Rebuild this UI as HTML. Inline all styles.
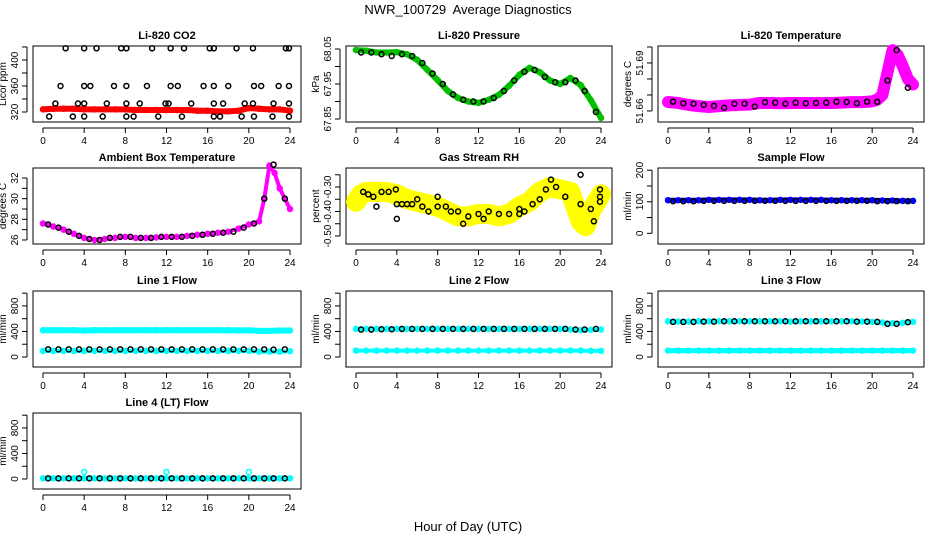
<!DOCTYPE html>
<html><head><meta charset="utf-8">
<style>
body{margin:0;background:#fff;}
svg{display:block;font-family:"Liberation Sans",sans-serif;}
text{white-space:pre;}
</style></head>
<body>
<svg id="chart" width="936" height="540" viewBox="0 0 936 540" xmlns="http://www.w3.org/2000/svg">
<text x="468" y="14" text-anchor="middle" font-size="13">NWR_100729  Average Diagnostics</text>
<text x="468" y="531" text-anchor="middle" font-size="13">Hour of Day (UTC)</text>
</svg>
<script>
// ---- data ----
const H25 = [0,1,2,3,4,5,6,7,8,9,10,11,12,13,14,15,16,17,18,19,20,21,22,23,24];
const HB = [0.5,1.5,2.5,3.5,4.5,5.5,6.5,7.5,8.5,9.5,10.5,11.5,12.5,13.5,14.5,15.5,16.5,17.5,18.5,19.5,20.5,21.5,22.4,23.5];
const xTicks = [0,4,8,12,16,20,24];

const co2Red = [324,325,325,325,324,324,324,324,324,323,323,323,323,323,323,322,322,321,321,322,326,325,324,324,322];
const co2BlackT = [2.2,4,5.2,7.6,8.1,10.6,12.4,13.7,16.2,16.6,18.8,20.4,23.6,23.9, 1.7,4,4.6,6.9,8.1,10.1,12.4,13.1,15.6,16.6,18,20.5,21.2,22.9,23.9, 1.2,3.4,4,6.2,8.1,9.4,11.9,12.2,14.4,16.6,17.5,19.6,20.4,22.4,23.9, 0.6,2.9,4,5.8,8.1,8.8,11.2,13.5,16.6,17.2,19.3,20.5,22.3,23.9];
const co2BlackV = [418,418,418,418,418,418,418,418,418,418,418,418,418,418, 360,360,360,360,360,360,360,360,360,360,360,360,360,360,360, 333,333,333,333,333,333,333,333,333,333,333,333,333,333,333, 313,313,313,313,313,313,313,313,313,313,313,313,313,313];

const presGreen = [68.047,68.045,68.04,68.04,68.041,68.035,68.019,67.99,67.961,67.93,67.91,67.9,67.896,67.905,67.919,67.945,67.976,67.996,67.984,67.96,67.95,67.967,67.947,67.904,67.853];
const presBlack = [68.04,68.04,68.035,68.03,68.035,68.03,68.01,67.98,67.95,67.92,67.905,67.9,67.9,67.91,67.93,67.96,67.985,67.99,67.97,67.955,67.955,67.96,67.93,67.87];

const tempT = [0,1,2,3,4,5,6,7,8,9,10,11,12,13,14,15,16,17,18,19,20,20.5,21,21.5,22,22.5,23,23.5,24];
const tempMag = [51.6656,51.665,51.6638,51.663,51.6625,51.663,51.6635,51.6638,51.664,51.665,51.665,51.6648,51.665,51.665,51.665,51.665,51.665,51.6652,51.6655,51.6655,51.666,51.667,51.670,51.684,51.698,51.695,51.688,51.680,51.6765];
const tempBlack = [51.6658,51.6648,51.6645,51.6638,51.6632,51.662,51.6645,51.6646,51.6628,51.6655,51.6652,51.6645,51.6652,51.6648,51.665,51.6652,51.6658,51.6656,51.6648,51.6658,51.6657,51.679,51.698,51.6745];

const ambT = [0,1,2,3,4,5,6,7,8,9,10,11,12,13,14,15,16,17,18,19,20,21,21.5,22,22.5,23,24];
const ambMag = [27.6,27.3,27,26.6,26.2,26,26.1,26.2,26.3,26.2,26.2,26.25,26.3,26.3,26.4,26.5,26.6,26.7,26.8,27.1,27.5,27.8,30,33.2,32.5,31,29];
const ambBlack = [27.5,27.2,26.8,26.4,26.1,26.0,26.2,26.3,26.3,26.2,26.2,26.3,26.3,26.3,26.4,26.5,26.6,26.7,26.8,27.2,27.6,30,33.3,30];

const rhT = [0,0.5,1,2,3,4,5,6,7,8,9,10,11,12,13,14,15,16,17,18,19,20,21,22,22.5,23,24];
const rhYel = [-0.36,-0.33,-0.32,-0.32,-0.32,-0.33,-0.35,-0.36,-0.37,-0.38,-0.40,-0.42,-0.42,-0.41,-0.41,-0.42,-0.41,-0.38,-0.36,-0.32,-0.30,-0.31,-0.32,-0.44,-0.46,-0.40,-0.33];
const rhBlackT = [0.7,1.2,1.7,2,2.5,3.2,3.9,4,4,4.5,5,5.5,6,6.5,7.1,8,8,8.8,9.3,10,10.5,11,12,12.5,13,14,15,16,16,16.5,17.3,18,18.6,19.1,19.6,20.5,22,22,23,23.3,23.9,23.9,23.9];
const rhBlackV = [-0.32,-0.33,-0.34,-0.38,-0.32,-0.32,-0.31,-0.43,-0.37,-0.37,-0.37,-0.37,-0.35,-0.38,-0.40,-0.34,-0.38,-0.38,-0.40,-0.40,-0.45,-0.42,-0.41,-0.43,-0.40,-0.41,-0.41,-0.41,-0.39,-0.40,-0.37,-0.35,-0.31,-0.27,-0.30,-0.34,-0.25,-0.37,-0.39,-0.44,-0.31,-0.34,-0.36];

const sampBlue = [105,105,105,105,106,106,106,106,106,105,105,106,106,106,106,106,105,105,105,105,105,104,104,103,103];
const sampBlack = [102,102,102,103,103,103,103,103,103,103,103,103,103,103,103,103,103,103,103,103,102,102,102,102];

const l1Top = [420,420,420,420,415,420,420,420,420,420,420,420,420,420,420,420,420,420,420,418,418,410,410,415,415];
const l1Low = [95,95,95,95,95,95,95,95,95,95,95,95,95,95,95,95,95,95,95,95,95,85,85,85,90];
const l1Black = [120,120,120,120,120,120,120,120,120,120,120,120,120,120,120,120,120,120,120,120,120,120,115,120];

const l2Top = [440,440,440,440,440,440,440,440,440,440,440,440,440,440,440,440,440,440,440,440,440,430,420,425,430];
const l2Low = [100,100,100,100,100,100,100,100,100,100,100,100,100,100,100,100,100,100,100,100,100,100,100,95,95];
const l2Black = [430,430,435,435,440,440,440,440,440,440,440,440,440,440,440,440,440,440,440,440,440,430,430,440];

const l3Top = [560,555,555,560,560,560,560,560,560,560,560,560,555,560,560,560,560,560,560,555,550,540,530,535,550];
const l3Low = [100,100,100,100,100,100,100,100,100,100,100,100,100,100,100,100,100,100,100,100,100,100,100,100,100];
const l3Black = [550,550,550,555,555,560,560,560,560,560,560,560,560,560,560,560,560,560,555,555,550,520,520,545];

const l4Cyan = [10,10,10,10,10,10,10,10,10,10,10,10,10,10,10,10,10,10,10,10,10,10,10,10,10];
const l4SpikeT = [4,12,20];
const l4SpikeV = [110,110,110];
const l4Black = [10,10,10,10,10,10,10,10,10,10,10,10,10,10,10,10,10,10,10,10,10,10,10,10];

// ---- drawing ----
const svg = document.getElementById('chart');
const NS = 'http://www.w3.org/2000/svg';
function mk(tag, attrs, parent){const e=document.createElementNS(NS,tag);for(const k in attrs)e.setAttribute(k,attrs[k]);(parent||svg).appendChild(e);return e;}

function panel(o){
  const g = mk('g',{});
  
  
  const xs = h => o.x0 + 10 + h*(o.x1-o.x0-21)/24;
  const ys = v => o.y1 - (v-o.ymin)/(o.ymax-o.ymin)*(o.y1-o.y0);
  const box = mk('rect',{x:o.x0,y:o.y0,width:o.x1-o.x0,height:o.y1-o.y0,fill:'none',stroke:'#000','stroke-width':1},g);
  
  
  const t = mk('text',{x:(o.x0+o.x1)/2,y:o.y0-7,'text-anchor':'middle','font-size':11,'font-weight':'bold'},g);
  t.textContent = o.title;
  
  
  const xa = mk('g',{},g);
  
  
  const by = o.y1+6;
  mk('line',{x1:xs(0),x2:xs(24),y1:by,y2:by,stroke:'#000'},xa);
  xTicks.forEach(v=>{
    mk('line',{x1:xs(v),x2:xs(v),y1:by,y2:by+5,stroke:'#000'},xa);
    const l = mk('text',{x:xs(v),y:by+16,'text-anchor':'middle','font-size':10},xa);
    l.textContent = v;
  });
  const ya = mk('g',{},g);
  
  
  const ax = o.x0-6;
  mk('line',{x1:ax,x2:ax,y1:ys(o.yt[0]),y2:ys(o.yt[o.yt.length-1]),stroke:'#000'},ya);
  o.yt.forEach(v=>{
    mk('line',{x1:ax,x2:ax-5,y1:ys(v),y2:ys(v),stroke:'#000'},ya);
  });
  o.yl.forEach((v,i)=>{
    const lx = ax-9, ly = ys(v);
    const l = mk('text',{x:lx,y:ly,'text-anchor':'middle','font-size':10,transform:`rotate(-90 ${lx} ${ly})`},ya);
    l.textContent = o.ylt[i];
  });
  const yt = mk('text',{x:o.x0-27,y:(o.y0+o.y1)/2,'text-anchor':'middle','font-size':10,transform:`rotate(-90 ${o.x0-27} ${(o.y0+o.y1)/2})`},g);
  yt.textContent = o.ylab;
  
  
  o.series.forEach(s=>{
    const sg = mk('g',{},g);
    
    
    if(s.band){
      const pts = s.t.map((h,i)=>xs(h)+','+ys(s.v[i])).join(' ');
      mk('polyline',{points:pts,fill:'none',stroke:s.color,'stroke-width':s.band,'stroke-linejoin':'round','stroke-linecap':'round'},sg);
    }
    s.t.forEach((h,i)=>{
      mk('circle',{cx:xs(h),cy:ys(s.v[i]),r:s.r||2.5,fill:'none',stroke:s.color,'stroke-width':1.5},sg);
    });
  });
}

const C1=[33,301], C2=[346,612], C3=[658,924];
const R1=[46,122], R2=[168,244], R3=[291,367], R4=[413,489];
const flowT=[0,200,400,600,800,1000], flowL=[0,400,800], flowLt=['0','400','800'];

panel({name:'panel-co2',title:'Li-820 CO2',ylab:'Licor ppm',x0:C1[0],x1:C1[1],y0:R1[0],y1:R1[1],ymin:304.6,ymax:421.5,
  yt:[320,340,360,380,400,420],yl:[320,360,400],ylt:['320','360','400'],
  series:[{name:'co2-series',t:H25,v:co2Red,color:'#ff0000',band:6},{name:'co2-black-points',t:co2BlackT,v:co2BlackV,color:'#000'}]});
panel({name:'panel-pressure',title:'Li-820 Pressure',ylab:'kPa',x0:C2[0],x1:C2[1],y0:R1[0],y1:R1[1],ymin:67.8414,ymax:68.0586,
  yt:[67.85,67.9,67.95,68,68.05],yl:[67.85,67.95,68.05],ylt:['67.85','67.95','68.05'],
  series:[{name:'pressure-series',t:H25,v:presGreen,color:'#00c000',band:6},{name:'pressure-black-points',t:HB,v:presBlack,color:'#000'}]});
panel({name:'panel-temperature',title:'Li-820 Temperature',ylab:'degrees C',x0:C3[0],x1:C3[1],y0:R1[0],y1:R1[1],ymin:51.6531,ymax:51.7006,
  yt:[51.66,51.67,51.68,51.69,51.70],yl:[51.66,51.69],ylt:['51.66','51.69'],
  series:[{name:'temperature-series',t:tempT,v:tempMag,color:'#ff00ff',band:12},{name:'temperature-black-points',t:HB,v:tempBlack,color:'#000'}]});
panel({name:'panel-ambient',title:'Ambient Box Temperature',ylab:'degrees C',x0:C1[0],x1:C1[1],y0:R2[0],y1:R2[1],ymin:25.61,ymax:32.97,
  yt:[26,27,28,29,30,31,32],yl:[26,28,30,32],ylt:['26','28','30','32'],
  series:[{name:'ambient-series',t:ambT,v:ambMag,color:'#ff00ff',band:4},{name:'ambient-black-points',t:HB,v:ambBlack,color:'#000'}]});
panel({name:'panel-rh',title:'Gas Stream RH',ylab:'percent',x0:C2[0],x1:C2[1],y0:R2[0],y1:R2[1],ymin:-0.5327,ymax:-0.2224,
  yt:[-0.5,-0.45,-0.4,-0.35,-0.3,-0.25],yl:[-0.5,-0.4,-0.3],ylt:['-0.50','-0.40','-0.30'],
  series:[{name:'rh-series',t:rhT,v:rhYel,color:'#ffff00',band:20},{name:'rh-black-points',t:rhBlackT,v:rhBlackV,color:'#000'}]});
panel({name:'panel-sample-flow',title:'Sample Flow',ylab:'ml/min',x0:C3[0],x1:C3[1],y0:R2[0],y1:R2[1],ymin:-33.8,ymax:207,
  yt:[0,50,100,150,200],yl:[0,100,200],ylt:['0','100','200'],
  series:[{name:'sample-flow-series',t:H25,v:sampBlue,color:'#0000ff',band:5},{name:'sample-flow-black-points',t:HB,v:sampBlack,color:'#000'}]});
panel({name:'panel-line1',title:'Line 1 Flow',ylab:'ml/min',x0:C1[0],x1:C1[1],y0:R3[0],y1:R3[1],ymin:-156.7,ymax:1034,
  yt:flowT,yl:flowL,ylt:flowLt,
  series:[{name:'line1-upper-series',t:H25,v:l1Top,color:'#00ffff',band:6},{name:'line1-lower-series',t:H25,v:l1Low,color:'#00ffff',band:4},{name:'line1-black-points',t:HB,v:l1Black,color:'#000'}]});
panel({name:'panel-line2',title:'Line 2 Flow',ylab:'ml/min',x0:C2[0],x1:C2[1],y0:R3[0],y1:R3[1],ymin:-156.7,ymax:1034,
  yt:flowT,yl:flowL,ylt:flowLt,
  series:[{name:'line2-upper-series',t:H25,v:l2Top,color:'#00ffff',band:4},{name:'line2-lower-series',t:H25,v:l2Low,color:'#00ffff',band:4},{name:'line2-black-points',t:HB,v:l2Black,color:'#000'}]});
panel({name:'panel-line3',title:'Line 3 Flow',ylab:'ml/min',x0:C3[0],x1:C3[1],y0:R3[0],y1:R3[1],ymin:-156.7,ymax:1034,
  yt:flowT,yl:flowL,ylt:flowLt,
  series:[{name:'line3-upper-series',t:H25,v:l3Top,color:'#00ffff',band:4},{name:'line3-lower-series',t:H25,v:l3Low,color:'#00ffff',band:5},{name:'line3-black-points',t:HB,v:l3Black,color:'#000'}]});
panel({name:'panel-line4',title:'Line 4 (LT) Flow',ylab:'ml/min',x0:C1[0],x1:C1[1],y0:R4[0],y1:R4[1],ymin:-156.7,ymax:1034,
  yt:flowT,yl:flowL,ylt:flowLt,
  series:[{name:'line4-series',t:H25,v:l4Cyan,color:'#00ffff',band:5},{name:'line4-spike-points',t:l4SpikeT,v:l4SpikeV,color:'#00ffff'},{name:'line4-black-points',t:HB,v:l4Black,color:'#000'}]});
</script>
</body></html>
